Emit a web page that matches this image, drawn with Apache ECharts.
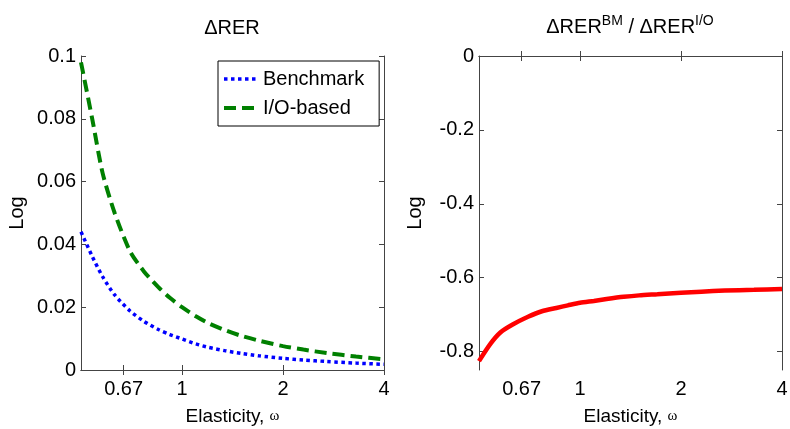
<!DOCTYPE html>
<html>
<head>
<meta charset="utf-8">
<script src="https://cdn.jsdelivr.net/npm/echarts@6/dist/echarts.min.js"></script>
<style>
html,body{margin:0;padding:0;background:#fff;}
#main{width:790px;height:429px;}
</style>
</head>
<body>
<div id="main"></div>
<script>
// elasticity values (x, log axis)
var elasticity=[0.5,0.54,0.58,0.63,0.7,0.77,0.85,0.92,1,1.1,1.2,1.35,1.5,1.7,2,2.3,2.7,3.3,4];
// left panel
var benchmark=[0.0440,0.0362,0.0297,0.0239,0.0188,0.0155,0.0129,0.0113,0.0099,0.0083,0.0072,0.0061,0.0053,0.0045,0.0037,0.0032,0.0027,0.0022,0.0018];
var ioBased=[0.0980,0.0800,0.0627,0.0500,0.0378,0.0314,0.0264,0.0230,0.0200,0.0171,0.0149,0.0126,0.0109,0.0093,0.0076,0.0065,0.0054,0.0043,0.0034];
// right panel
var ratio=[-0.826,-0.780,-0.748,-0.727,-0.706,-0.691,-0.682,-0.675,-0.668,-0.663,-0.658,-0.652,-0.648,-0.645,-0.641,-0.638,-0.635,-0.633,-0.631];
// tick labels
var xTicks=[0.67,1,2,4];
var leftYTicks=[0,0.02,0.04,0.06,0.08,0.1];
var rightYTicks=[0,-0.2,-0.4,-0.6,-0.8];

var FONT='Liberation Sans, Arial, sans-serif';
var AXC='#444';

function pairs(xs,ys){
	var out=[];
	for(var i=0;i<xs.length;i++){
		out.push([xs[i],ys[i]]);
	}
	return out;
}

function xAxisOf(grid,pos,showLabel){
	return {
		type:'log',logBase:2,min:0.5,max:4,gridIndex:grid,position:pos,
		axisLine:{show:true,lineStyle:{color:AXC,width:1}},
		axisTick:{show:true,inside:true,length:5,customValues:xTicks,lineStyle:{color:AXC}},
		axisLabel:{show:showLabel,customValues:xTicks,margin:9,color:'#000',fontSize:20,fontFamily:FONT,
			formatter:function(v){return String(v);}},
		splitLine:{show:false},minorTick:{show:false},
		name:showLabel?'Elasticity, {w|ω}':'',nameLocation:'middle',nameGap:37,
		nameTextStyle:{color:'#000',fontSize:19,fontFamily:FONT,
			rich:{w:{fontSize:15,fontFamily:'Liberation Serif, DejaVu Serif, serif',color:'#000'}}}
	};
}

function yAxisOf(grid,pos,min,max,ticks,showLabel){
	return {
		type:'value',min:min,max:max,gridIndex:grid,position:pos,
		axisLine:{show:true,lineStyle:{color:AXC,width:1}},
		axisTick:{show:true,inside:true,length:5,customValues:ticks,lineStyle:{color:AXC}},
		axisLabel:{show:showLabel,customValues:ticks,margin:5,color:'#000',fontSize:20,fontFamily:FONT},
		splitLine:{show:false},
		name:showLabel?'Log':'',nameLocation:'middle',nameGap:54,nameRotate:90,
		nameTextStyle:{color:'#000',fontSize:20,fontFamily:FONT}
	};
}

var chart=echarts.init(document.getElementById('main'));
var option={
	animation:false,
	backgroundColor:'#fff',
	title:[
		{text:'ΔRER',left:232,top:18,textAlign:'center',padding:0,
			textStyle:{color:'#000',fontSize:20,fontWeight:'normal',fontFamily:FONT}},
		{text:'{a|ΔRER}{s|BM}{a| / ΔRER}{s|I/O}',left:630,top:14,textAlign:'center',padding:0,
			textStyle:{fontWeight:'normal',rich:{
				a:{color:'#000',fontSize:20,fontWeight:'normal',fontFamily:FONT},
				s:{color:'#000',fontSize:14,fontWeight:'normal',fontFamily:FONT,padding:[0,0,12,0]}
			}}}
	],
	legend:{
		data:['Benchmark','I/O-based'],
		orient:'vertical',left:218,top:61,
		backgroundColor:'#fff',borderColor:'#000',borderWidth:1,borderRadius:0,
		padding:[8,15,8,4],itemGap:9,itemWidth:34,itemHeight:2,
		itemStyle:{opacity:0},
		lineStyle:{width:'inherit'},
		textStyle:{color:'#000',fontSize:20,fontFamily:FONT}
	},
	grid:[
		{left:81,top:56,width:303,height:314,outerBoundsMode:'none'},
		{left:479,top:56,width:303,height:314,outerBoundsMode:'none'}
	],
	xAxis:[
		xAxisOf(0,'bottom',true),
		xAxisOf(0,'top',false),
		xAxisOf(1,'bottom',true),
		xAxisOf(1,'top',false)
	],
	yAxis:[
		yAxisOf(0,'left',0,0.1,leftYTicks,true),
		yAxisOf(0,'right',0,0.1,leftYTicks,false),
		yAxisOf(1,'left',-0.85,0,rightYTicks,true),
		yAxisOf(1,'right',-0.85,0,rightYTicks,false)
	],
	series:[
		{name:'Benchmark',type:'line',xAxisIndex:0,yAxisIndex:0,symbol:'none',smooth:0.25,
			data:pairs(elasticity,benchmark),
			lineStyle:{color:'#0000ff',width:3.5,type:[3.5,3.5],cap:'butt'},itemStyle:{color:'#0000ff'}},
		{name:'I/O-based',type:'line',xAxisIndex:0,yAxisIndex:0,symbol:'none',smooth:0.25,
			data:pairs(elasticity,ioBased),
			lineStyle:{color:'#008000',width:4,type:[12,6],cap:'butt'},itemStyle:{color:'#008000'}},
		{name:'ratio',type:'line',xAxisIndex:2,yAxisIndex:2,symbol:'none',smooth:0.25,
			data:pairs(elasticity,ratio),
			lineStyle:{color:'#ff0000',width:4.5},itemStyle:{color:'#ff0000'}}
	]
};
chart.setOption(option);
</script>
</body>
</html>
